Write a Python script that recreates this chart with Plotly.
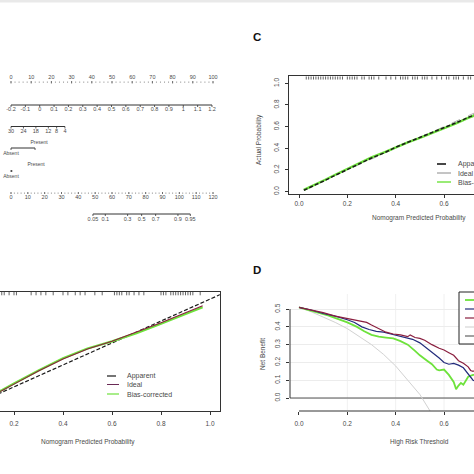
import math
import plotly.graph_objects as go

W = H = 474

# ---------------- DATA ----------------
# Nomogram scales (panel A, cropped)
points_ticks = [0, 10, 20, 30, 40, 50, 60, 70, 80, 90, 100]
var1_ticks = [-0.2, -0.1, 0, 0.1, 0.2, 0.3, 0.4, 0.5, 0.6, 0.7, 0.8, 0.9, 1, 1.1, 1.2]
var1_labels = ["-0.2", "-0.1", "0", "0.1", "0.2", "0.3", "0.4", "0.5", "0.6", "0.7", "0.8", "0.9", "1", "1.1", "1.2"]
var2_ticks = [30, 24, 18, 12, 8, 4]
var3_levels = ["Absent", "Present"]
var3_points = [0, 11.9]
var4_levels = ["Absent", "Present"]
var4_points = [0, 0.4]
total_ticks = [0, 10, 20, 30, 40, 50, 60, 70, 80, 90, 100, 110, 120]
prob_ticks = [0.05, 0.1, 0.3, 0.5, 0.7, 0.9, 0.95]
prob_labels = ["0.05", "0.1", "0.3", "0.5", "0.7", "0.9", "0.95"]

# Panel C calibration
c_x = [0.02, 0.06, 0.10, 0.15, 0.20, 0.25, 0.30, 0.35, 0.40, 0.45, 0.50, 0.55, 0.60, 0.65, 0.70, 0.75]
c_apparent = [0.012, 0.05, 0.095, 0.15, 0.205, 0.26, 0.31, 0.355, 0.41, 0.455, 0.50, 0.545, 0.585, 0.635, 0.685, 0.73]
c_bias = [0.015, 0.055, 0.10, 0.155, 0.21, 0.265, 0.315, 0.36, 0.41, 0.455, 0.495, 0.54, 0.58, 0.63, 0.68, 0.725]
c_rug = [0.03, 0.04, 0.05, 0.06, 0.07, 0.08, 0.09, 0.10, 0.11, 0.12, 0.13, 0.14, 0.15, 0.16, 0.17, 0.18,
         0.20, 0.21, 0.22, 0.23, 0.24, 0.26, 0.27, 0.29, 0.30, 0.31, 0.33, 0.36, 0.38, 0.40, 0.42, 0.43,
         0.44, 0.45, 0.47, 0.48, 0.49, 0.51, 0.52, 0.53, 0.55, 0.57, 0.59, 0.61, 0.62, 0.64, 0.65,
         0.66, 0.68, 0.70, 0.71]

# Panel B calibration
b_x = [0.10, 0.15, 0.20, 0.30, 0.40, 0.50, 0.60, 0.65, 0.70, 0.80, 0.90, 0.97]
b_bias = [0.12, 0.17, 0.23, 0.35, 0.46, 0.55, 0.615, 0.65, 0.69, 0.775, 0.86, 0.925]
b_ideal = [0.115, 0.165, 0.225, 0.345, 0.455, 0.545, 0.615, 0.655, 0.70, 0.785, 0.875, 0.94]
b_rug = [0.15, 0.16, 0.18, 0.20, 0.21, 0.27, 0.29, 0.31, 0.33, 0.36, 0.40, 0.42, 0.45, 0.47, 0.49,
         0.53, 0.56, 0.61, 0.62, 0.63, 0.64, 0.66, 0.67, 0.69, 0.71, 0.73, 0.80, 0.81, 0.82, 0.84,
         0.85, 0.86, 0.87, 0.88, 0.89, 0.90, 0.91, 0.92, 0.93, 0.96]

# Panel D decision curves
d_green_x = [0.00, 0.04, 0.08, 0.12, 0.16, 0.20, 0.24, 0.27, 0.30, 0.33, 0.36, 0.39, 0.42, 0.45, 0.48,
             0.50, 0.53, 0.55, 0.57, 0.58, 0.60, 0.62, 0.64, 0.65, 0.66, 0.67, 0.68, 0.70, 0.72, 0.74]
d_green_y = [0.51, 0.495, 0.48, 0.465, 0.445, 0.425, 0.40, 0.375, 0.355, 0.345, 0.34, 0.335, 0.32, 0.30, 0.265,
             0.24, 0.21, 0.19, 0.16, 0.155, 0.16, 0.13, 0.09, 0.05, 0.07, 0.085, 0.075, 0.12, 0.13, 0.13]
d_blue_x = [0.00, 0.05, 0.10, 0.15, 0.20, 0.23, 0.26, 0.29, 0.32, 0.35, 0.38, 0.41, 0.44, 0.47, 0.50,
            0.52, 0.54, 0.56, 0.58, 0.60, 0.62, 0.64, 0.66, 0.68, 0.70, 0.72, 0.74]
d_blue_y = [0.51, 0.495, 0.475, 0.46, 0.44, 0.425, 0.40, 0.385, 0.375, 0.37, 0.36, 0.35, 0.34, 0.33, 0.31,
            0.29, 0.27, 0.245, 0.225, 0.20, 0.19, 0.195, 0.185, 0.17, 0.135, 0.10, 0.09]
d_red_x = [0.00, 0.05, 0.10, 0.15, 0.20, 0.25, 0.28, 0.30, 0.33, 0.36, 0.39, 0.42, 0.45, 0.46, 0.48,
           0.50, 0.52, 0.55, 0.58, 0.60, 0.62, 0.64, 0.66, 0.68, 0.70, 0.71, 0.72, 0.74]
d_red_y = [0.51, 0.495, 0.48, 0.46, 0.445, 0.43, 0.425, 0.41, 0.39, 0.37, 0.36, 0.355, 0.345, 0.355, 0.34,
           0.335, 0.325, 0.30, 0.28, 0.27, 0.255, 0.24, 0.21, 0.195, 0.175, 0.155, 0.15, 0.16]
d_all_x = [0.00, 0.05, 0.10, 0.15, 0.20, 0.25, 0.30, 0.35, 0.40, 0.45, 0.50, 0.55, 0.57]
d_all_y = [0.51, 0.485, 0.455, 0.425, 0.39, 0.345, 0.30, 0.245, 0.18, 0.10, 0.02, -0.09, -0.14]
d_none_x = [-0.1, 1.0]
d_none_y = [0.0, 0.0]

axis_ticks_01 = [0.0, 0.2, 0.4, 0.6, 0.8, 1.0]
d_yticks = [0.0, 0.1, 0.2, 0.3, 0.4, 0.5]

# ---------------- helpers ----------------
def PX(px):
    return px / W

def PY(py):
    return 1 - py / H

FONT = "Liberation Sans, Arial, sans-serif"
TXT = "#4a4a4a"
GREEN = "#6ee23c"
NAVY = "#232c7c"
MAROON = "#8a1f3f"
PURPLE = "#6a2a55"

fig = go.Figure()

# ---------------- Nomogram (axis x/y, pixel rows) ----------------
def v1_pts(v):
    return (v + 0.2) / 1.4 * 99.5

def v2_pts(v):
    return (30 - v) * 1.027

def tot_ax(t):
    return t * 100 / 120

def prob_ax(p):
    return (77.6 + 9.82 * math.log(p / (1 - p))) * 100 / 120

def segs(xs, y0, y1):
    X, Y = [], []
    for x in xs:
        X += [x, x, None]
        Y += [y0, y1, None]
    return X, Y

def add_line(x, y, color="#333", width=0.9, dash=None, xa="x", ya="y"):
    fig.add_trace(go.Scatter(x=x, y=y, mode="lines", xaxis=xa, yaxis=ya,
                             line=dict(color=color, width=width, dash=dash),
                             hoverinfo="skip", showlegend=False))

def add_text(x, y, t, size=5.5, color=TXT, xa="x", ya="y"):
    fig.add_trace(go.Scatter(x=x, y=y, mode="text", text=t, xaxis=xa, yaxis=ya,
                             textfont=dict(size=size, color=color, family=FONT),
                             textposition="middle center", hoverinfo="skip",
                             showlegend=False, cliponaxis=False))

# Row 1: Points
minor = [v for v in range(0, 101, 2)]
X, Y = segs(minor, 81.5, 82.8)
add_line(X, Y, color="#777", width=0.7)
X, Y = segs(points_ticks, 81, 83.5)
add_line(X, Y, color="#555", width=0.8)
add_text(points_ticks, [77.5] * len(points_ticks), [str(v) for v in points_ticks])

# Row 2: continuous variable
p2 = [v1_pts(v) for v in var1_ticks]
add_line([p2[0], p2[-1]], [105, 105], width=1)
X, Y = segs(p2, 105, 107)
add_line(X, Y, width=0.8)
add_text(p2, [109.5] * len(p2), var1_labels)

# Row 3
p3 = [v2_pts(v) for v in var2_ticks]
add_line([p3[0], p3[-1]], [126.5, 126.5], width=1)
X, Y = segs(p3, 126.5, 128.5)
add_line(X, Y, width=0.8)
add_text(p3, [132] * len(p3), [str(v) for v in var2_ticks])

# Row 4 categorical
add_line(var3_points, [148, 148], width=1)
X, Y = segs(var3_points, 148, 150)
add_line(X, Y, width=0.8)
add_text([var3_points[0]], [154], [var3_levels[0]], size=5)
add_text([var3_points[1] + 2], [143], [var3_levels[1]], size=5)

# Row 5 categorical
add_line(var4_points, [171, 171], width=1)
X, Y = segs(var4_points, 170, 172)
add_line(X, Y, width=0.8)
add_text([var4_points[0]], [176.5], [var4_levels[0]], size=5)
add_text([var4_points[1] + 12], [165], [var4_levels[1]], size=5)

# Row 6 total points
tminor = [tot_ax(v) for v in range(0, 121, 2)]
X, Y = segs(tminor, 192.5, 193.8)
add_line(X, Y, color="#777", width=0.7)
tt = [tot_ax(v) for v in total_ticks]
X, Y = segs(tt, 192, 194)
add_line(X, Y, color="#555", width=0.8)
add_text(tt, [197.5] * len(tt), [str(v) for v in total_ticks])

# Row 7 probability
pp = [prob_ax(p) for p in prob_ticks]
add_line([pp[0], pp[-1]], [214, 214], width=1)
X, Y = segs(pp, 214, 216)
add_line(X, Y, width=0.8)
add_text(pp, [220] * len(pp), prob_labels)

# ---------------- Panel C (x2/y2) ----------------
add_line(c_x, [v for v in c_x], color="#9a9a9a", width=0.8, dash="dash", xa="x2", ya="y2")
add_line(c_x, c_bias, color=GREEN, width=2.4, xa="x2", ya="y2")
add_line(c_x, c_apparent, color="#1a1a1a", width=1.5, dash="4px,2px", xa="x2", ya="y2")
X, Y = segs(c_rug, 1.065, 1.035)
add_line(X, Y, color="#222", width=0.7, xa="x2", ya="y2")

# ---------------- Panel B (x3/y3) ----------------
add_line([0, 1.1], [0, 1.1], color="#1a1a1a", width=1.2, dash="4px,2px", xa="x3", ya="y3")
add_line(b_x, b_bias, color=GREEN, width=2.2, xa="x3", ya="y3")
add_line(b_x, b_ideal, color=MAROON, width=1.1, xa="x3", ya="y3")
X, Y = segs(b_rug, 1.065, 1.035)
add_line(X, Y, color="#222", width=0.7, xa="x3", ya="y3")

# ---------------- Panel D (x4/y4) ----------------
add_line(d_none_x, d_none_y, color="#555", width=1.1, xa="x4", ya="y4")
add_line(d_all_x, d_all_y, color="#d2d2d2", width=1.0, xa="x4", ya="y4")
add_line(d_green_x, d_green_y, color=GREEN, width=1.8, xa="x4", ya="y4")
add_line(d_blue_x, d_blue_y, color=NAVY, width=1.2, xa="x4", ya="y4")
add_line(d_red_x, d_red_y, color=MAROON, width=1.2, xa="x4", ya="y4")

tickfont = dict(size=6.5, color=TXT, family=FONT)

layout = dict(
    width=W, height=H, margin=dict(l=0, r=0, t=0, b=0),
    paper_bgcolor="white", plot_bgcolor="rgba(0,0,0,0)", showlegend=False,
    xaxis=dict(domain=[0, 1], range=[-11 / 2.02, 463 / 2.02], visible=False),
    yaxis=dict(domain=[0, 1], range=[474, 0], visible=False),
    # C
    xaxis2=dict(domain=[PX(289), 1], range=[-0.0414, (474 - 299) / 241.7], anchor="y2",
                tickvals=axis_ticks_01, ticktext=["%.1f" % v for v in axis_ticks_01],
                ticks="outside", ticklen=3, tickcolor="#333", showline=True, linecolor="#333",
                linewidth=1, mirror=True, showgrid=False, zeroline=False, tickfont=tickfont,
                ticklabelstandoff=0),
    yaxis2=dict(domain=[PY(193.7), PY(76.3)], range=[-0.02, 1.065], anchor="x2",
                tickvals=axis_ticks_01, ticktext=["%.1f" % v for v in axis_ticks_01],
                ticks="outside", ticklen=3, tickcolor="#333", showline=True, linecolor="#333",
                linewidth=1, showgrid=False, zeroline=False, tickfont=tickfont, tickangle=-90,
                ticklabelstandoff=3),
    # B
    xaxis3=dict(domain=[0, PX(219.8)], range=[35 / 245, 1.04], anchor="y3",
                tickvals=axis_ticks_01, ticktext=["%.1f" % v for v in axis_ticks_01],
                ticks="outside", ticklen=3, tickcolor="#333", showline=True, linecolor="#333",
                linewidth=1, mirror=True, showgrid=False, zeroline=False, tickfont=tickfont,
                ticklabelstandoff=3),
    yaxis3=dict(domain=[PY(411), PY(292)], range=[-0.02, 1.065], anchor="x3", side="right",
                showline=True, linecolor="#333", linewidth=1, ticks="", showticklabels=False,
                showgrid=False, zeroline=False),
    # D
    xaxis4=dict(domain=[PX(290), 1], range=[-0.0372, (474 - 299) / 241.7], anchor="y4",
                tickvals=[0.0, 0.2, 0.4, 0.6, 0.8], ticktext=["0.0", "0.2", "0.4", "0.6", "0.8"],
                ticks="outside", ticklen=3, tickcolor="#333", showline=False,
                showgrid=False, zeroline=False,
                tickfont=tickfont, ticklabelstandoff=3),
    yaxis4=dict(domain=[PY(411), PY(292)], range=[-0.073, 0.596], anchor="x4",
                tickvals=d_yticks, ticktext=["%.1f" % v for v in d_yticks],
                ticks="outside", ticklen=3, tickcolor="#333", showline=False,
                showgrid=True, gridcolor="#ececec", gridwidth=0.8, zeroline=False,
                tickfont=tickfont, tickangle=-90, ticklabelstandoff=3),
)
fig.update_layout(**layout)

shapes = [
    dict(type="rect", xref="paper", yref="paper", x0=0, x1=1, y0=PY(2.5), y1=1,
         fillcolor="#e9e9e9", line=dict(width=0), layer="below"),
    dict(type="line", xref="x4", yref="paper", x0=0.0, x1=1.0, y0=PY(411), y1=PY(411),
         line=dict(color="#333", width=1)),
    dict(type="line", xref="paper", yref="y4", x0=PX(290), x1=PX(290), y0=0.0, y1=0.5,
         line=dict(color="#333", width=1)),
    dict(type="rect", xref="paper", yref="paper", x0=PX(459), x1=PX(480), y0=PY(344), y1=PY(292),
         fillcolor="white", line=dict(color="#222", width=1)),
]
# D vertical grid lines (x = 0.2, 0.4, 0.6)
for gx in [0.2, 0.4, 0.6]:
    shapes.append(dict(type="line", xref="x4", yref="paper", x0=gx, x1=gx, y0=PY(410), y1=PY(294),
                       line=dict(color="#ececec", width=0.8), layer="below"))
leg_d = [(300, GREEN, 1.8), (309, NAVY, 1.2), (318, MAROON, 1.2), (327, "#d2d2d2", 1.1), (336, "#555", 1.1)]
for y, col, w in leg_d:
    shapes.append(dict(type="line", xref="paper", yref="paper", x0=PX(465), x1=PX(476),
                       y0=PY(y), y1=PY(y), line=dict(color=col, width=w)))
for y, col, w, dash in [(164, "#1a1a1a", 1.6, "dash"), (173, "#8a8a8a", 1.0, None), (182, GREEN, 1.4, None)]:
    shapes.append(dict(type="line", xref="paper", yref="paper", x0=PX(437), x1=PX(451),
                       y0=PY(y), y1=PY(y), line=dict(color=col, width=w, dash=dash)))
for y, col, w, dash in [(376, "#1a1a1a", 1.2, "dash"), (384.5, PURPLE, 1.0, None), (394, GREEN, 1.2, None)]:
    shapes.append(dict(type="line", xref="paper", yref="paper", x0=PX(107), x1=PX(119),
                       y0=PY(y), y1=PY(y), line=dict(color=col, width=w, dash=dash)))
fig.update_layout(shapes=shapes)

ann = []
def A(x, y, t, size=6.5, angle=0, bold=False, xanchor="center", color=TXT):
    ann.append(dict(x=PX(x), y=PY(y), xref="paper", yref="paper", text=("<b>%s</b>" % t) if bold else t,
                    showarrow=False, textangle=angle, xanchor=xanchor, yanchor="middle",
                    font=dict(size=size, color=color, family=FONT)))

A(257, 37, "C", size=11.5, bold=True, color="#111")
A(257, 270, "D", size=11.5, bold=True, color="#111")
A(259, 140, "Actual Probability", angle=-90)
A(419, 218, "Nomogram Predicted Probability")
A(88, 442, "Nomogram Predicted Probability")
A(419, 442, "High Risk Threshold")
A(262, 354, "Net Benefit", angle=-90)
for y, t in [(164, "Apparent"), (173, "Ideal"), (182, "Bias-corrected")]:
    A(456, y, t, size=7, xanchor="left")
for y, t in [(376, "Apparent"), (384.5, "Ideal"), (394, "Bias-corrected")]:
    A(125, y, t, size=7, xanchor="left")
fig.update_layout(annotations=ann)

fig.write_html("out.html", config={"displayModeBar": False},
               post_script="document.body.style.margin='0px';document.body.style.overflow='hidden';")
